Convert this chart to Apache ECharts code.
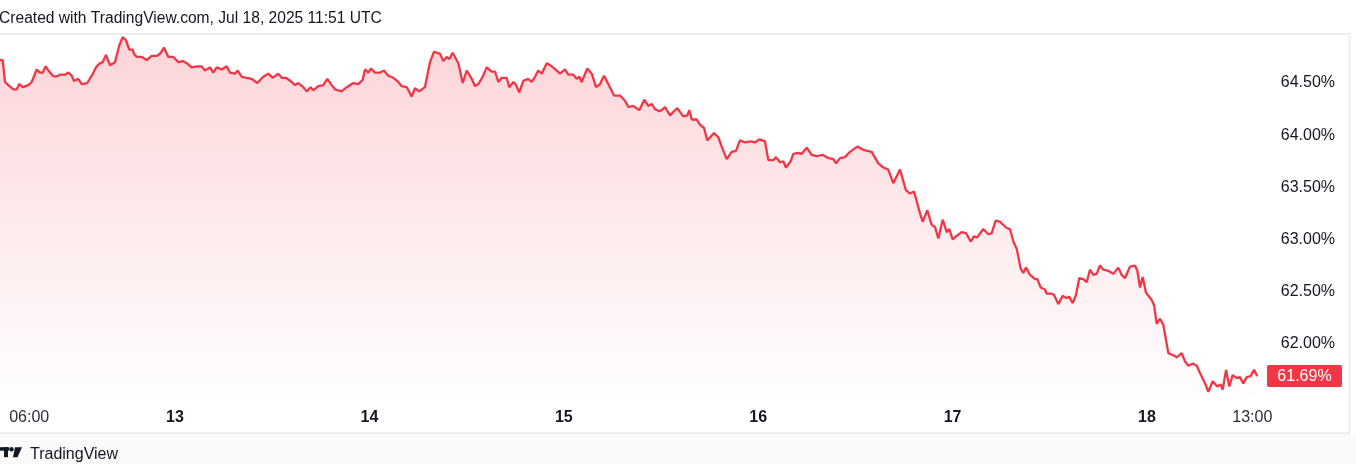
<!DOCTYPE html>
<html><head><meta charset="utf-8">
<script src="https://cdn.jsdelivr.net/npm/echarts@6/dist/echarts.min.js"></script>
<style>html,body{margin:0;padding:0;background:#fff;overflow:hidden;} #c{width:1356px;height:464px;}</style>
</head><body><div id="c"></div>
<script>
// hours since Jul 12 00:00 (UTC display of the chart)
const hours = [
2.40,2.73,3.01,3.42,4.04,4.46,4.78,5.20,5.89,6.31,6.93,7.33,7.67,8.04,8.36,8.90,9.31,9.80,10.42,10.83,11.25,11.53,12.06,12.48,13.17,13.72,14.33,14.74,15.07,15.48,15.98,16.59,17.12,17.54,17.95,18.36,18.78,18.94,19.27,19.89,20.51,21.12,21.74,22.15,22.64,23.17,23.79,24.41,24.95,25.45,26.06,26.68,27.30,27.70,28.32,28.73,29.15,29.77,30.38,30.79,31.41,31.74,32.24,32.85,33.47,34.16,34.90,35.52,36.06,36.75,37.17,37.70,38.41,38.82,39.22,39.84,40.26,40.75,41.08,41.69,42.31,42.80,
43.35,43.75,44.58,45.20,46.01,46.63,47.17,47.46,47.87,48.20,48.69,49.31,49.80,50.33,50.95,51.57,51.99,52.61,53.22,53.63,54.16,54.86,55.48,55.98,56.72,57.12,57.54,57.87,58.28,58.98,59.52,60.01,60.63,61.04,61.45,61.99,62.48,63.10,63.51,63.92,64.33,64.95,65.27,65.77,66.10,66.51,67.00,67.62,68.04,68.45,68.85,69.27,69.89,70.51,71.12,71.53,72.15,72.56,73.17,73.60,73.92,74.21,74.90,75.45,75.98,
76.47,76.97,77.49,78.20,78.94,79.56,79.97,80.58,81.32,81.94,82.43,82.85,83.26,83.79,84.09,84.49,85.11,86.01,86.75,87.25,87.50,87.79,88.41,88.82,89.31,89.72,90.55,91.08,91.50,92.11,92.73,93.26,93.75,94.37,95.08,95.61,96.14,96.84,97.25,97.87,98.20,98.69,99.10,99.43,100.01,100.34,100.95,101.37,101.99,102.61,103.22,103.97,104.66,105.28,105.61,106.10,106.72,107.33,
108.24,108.98,110.01,110.83,111.45,112.06,112.68,113.51,114.25,114.74,115.24,115.98,116.31,116.88,117.42,117.83,118.24,118.78,119.28,119.60,120.01,120.42,121.12,121.66,122.23,122.64,123.05,123.79,124.41,124.83,125.32,125.85,126.68,127.09,127.50,127.92,128.41,128.73,129.07,129.56,130.18,130.46,130.88,131.41,131.62,132.24,132.52,133.05,133.60,134.00,134.41,134.83,135.24,135.64,136.14,136.56,136.96,137.37,137.79,
138.20,138.61,139.23,139.84,140.05,140.46,140.88,141.29,141.90,142.52,142.81,143.14,143.47,143.88,144.58,144.87,145.20,145.61,146.02,146.64,147.25,147.67,148.29,148.70,149.11,149.65,150.14,150.55,151.17,151.57,152.12,152.68,153.10,153.35,153.76,154.16,154.58,155.08,155.48,155.89,156.31,156.80,157.21,157.62
];
// percentage values
const values = [
64.72,64.72,64.51,64.48,64.44,64.44,64.49,64.46,64.48,64.51,64.63,64.60,64.60,64.66,64.62,64.57,64.56,64.58,64.58,64.60,64.57,64.52,64.54,64.49,64.50,64.57,64.66,64.69,64.70,64.77,64.67,64.70,64.86,64.94,64.91,64.82,64.82,64.78,64.75,64.75,64.72,64.76,64.76,64.78,64.84,64.75,64.75,64.70,64.71,64.69,64.65,64.66,64.66,64.62,64.65,64.60,64.65,64.63,64.66,64.60,64.59,64.62,64.56,64.55,64.54,64.50,64.56,64.59,64.55,64.59,64.55,64.55,64.51,64.48,64.50,64.46,64.42,64.46,64.43,64.47,64.48,64.54,
64.48,64.44,64.42,64.46,64.50,64.49,64.53,64.63,64.60,64.64,64.60,64.60,64.62,64.57,64.55,64.51,64.47,64.46,64.37,64.45,64.42,64.46,64.70,64.80,64.78,64.71,64.75,64.73,64.79,64.69,64.50,64.62,64.54,64.47,64.49,64.56,64.65,64.61,64.61,64.51,64.55,64.55,64.46,64.51,64.48,64.41,64.52,64.54,64.51,64.56,64.62,64.59,64.69,64.66,64.62,64.59,64.63,64.58,64.58,64.54,64.56,64.51,64.64,64.59,64.46,
64.49,64.57,64.49,64.38,64.38,64.33,64.27,64.28,64.24,64.34,64.28,64.30,64.25,64.23,64.24,64.27,64.19,64.26,64.18,64.19,64.24,64.15,64.15,64.10,64.07,63.95,64.02,63.98,63.89,63.77,63.84,63.85,63.95,63.93,63.94,63.93,63.96,63.94,63.76,63.76,63.79,63.74,63.75,63.69,63.75,63.82,63.83,63.82,63.88,63.81,63.80,63.81,63.78,63.77,63.73,63.78,63.79,63.84,
63.89,63.86,63.84,63.73,63.69,63.67,63.54,63.67,63.47,63.44,63.46,63.25,63.17,63.28,63.14,63.12,63.01,63.19,63.07,63.10,63.00,63.03,63.07,63.06,62.98,63.03,63.02,63.10,63.05,63.06,63.18,63.17,63.11,63.10,62.98,62.91,62.72,62.68,62.73,62.66,62.62,62.62,62.54,62.52,62.48,62.48,62.47,62.38,62.46,62.44,62.45,62.39,62.47,62.63,62.62,62.59,62.71,62.66,62.67,
62.75,62.71,62.70,62.67,62.68,62.73,62.66,62.63,62.74,62.75,62.70,62.54,62.64,62.49,62.42,62.37,62.19,62.24,62.18,61.91,61.89,61.87,61.91,61.83,61.79,61.81,61.79,61.72,61.62,61.54,61.64,61.59,61.61,61.56,61.75,61.59,61.70,61.67,61.68,61.62,61.68,61.69,61.75,61.69
];
const xTickHours = [6, 24, 48, 72, 96, 120, 144, 157];
const xTickLabels = ['06:00', '13', '14', '15', '16', '17', '18', '13:00'];
const yTickValues = [62, 62.5, 63, 63.5, 64, 64.5];
const titleText = 'Created with TradingView.com, Jul 18, 2025 11:51 UTC';
const brandText = 'TradingView';

const RED = '#F23645';
const FONT = '"Liberation Sans", Arial, Helvetica, sans-serif';
const n = Math.min(hours.length, values.length);
const data = [];
for (let i = 0; i < n; i++) data.push([hours[i], values[i]]);
const lastVal = values[n - 1];

const chart = echarts.init(document.getElementById('c'), null, {renderer: 'canvas'});
const option = {
  animation: false,
  backgroundColor: '#ffffff',
  grid: {left: 0, right: 94, top: 34, bottom: 66, containLabel: false},
  xAxis: {
    type: 'value', min: 2.395, max: 158.2,
    axisLine: {show: false}, axisTick: {show: false}, splitLine: {show: false},
    axisLabel: {
      customValues: xTickHours,
      margin: 12,
      fontFamily: FONT, fontSize: 16, color: '#131722',
      formatter: function (v) {
        const i = xTickHours.indexOf(v);
        if (i < 0) return '';
        const s = xTickLabels[i];
        return s.indexOf(':') >= 0 ? '{t|' + s + '}' : '{d|' + s + '}';
      },
      rich: {
        t: {fontFamily: FONT, fontSize: 16, color: '#2a2e39'},
        d: {fontFamily: FONT, fontSize: 16, color: '#131722', fontWeight: 'bold'}
      }
    }
  },
  yAxis: {
    type: 'value', position: 'right', min: 61.48, max: 64.97, scale: true,
    axisLine: {show: false}, axisTick: {show: false}, splitLine: {show: false},
    axisLabel: {
      customValues: yTickValues,
      align: 'right', margin: 73,
      fontFamily: FONT, fontSize: 16, color: '#131722',
      formatter: function (v) { return v.toFixed(2) + '%'; }
    }
  },
  series: [{
    type: 'line', data: data, showSymbol: false, symbol: 'none',
    lineStyle: {color: RED, width: 2.3},
    itemStyle: {color: RED},
    areaStyle: {
      origin: 'start',
      color: new echarts.graphic.LinearGradient(0, 0, 0, 1, [
        {offset: 0, color: 'rgba(242,54,69,0.30)'},
        {offset: 0.5, color: 'rgba(242,54,69,0.15)'},
        {offset: 1, color: 'rgba(242,54,69,0.01)'}
      ])
    }
  }]
};
chart.setOption(option);

const lastPix = chart.convertToPixel({gridIndex: 0}, [hours[n - 1], lastVal]);
chart.setOption({
  graphic: [
    {type: 'rect', z: 0, silent: true, shape: {x: 0, y: 434, width: 1356, height: 30}, style: {fill: '#fafafa'}},
    {type: 'polyline', z: 50, silent: true, shape: {points: [[-5, 34], [1349.5, 34], [1349.5, 433], [-5, 433]]}, style: {stroke: '#eeeeee', lineWidth: 2, fill: null}},
    {type: 'text', z: 50, left: -1, top: 11, style: {text: titleText, font: '15.6px ' + FONT, fill: '#131722'}},
    {type: 'group', z: 50, left: 0, top: 447, children: [
      {type: 'rect', shape: {x: 0, y: 1, width: 9, height: 3.5}, style: {fill: '#131722'}},
      {type: 'rect', shape: {x: 4, y: 1, width: 4, height: 10}, style: {fill: '#131722'}},
      {type: 'circle', shape: {cx: 11.5, cy: 3, r: 2.2}, style: {fill: '#131722'}},
      {type: 'polygon', shape: {points: [[15, 1], [22, 1], [17.5, 11], [13, 11]]}, style: {fill: '#131722'}}
    ]},
    {type: 'text', z: 50, left: 30, top: 447, style: {text: brandText, font: '16px ' + FONT, fill: '#131722'}},
    {type: 'rect', z: 60, shape: {x: 1267, y: lastPix[1] - 11, width: 75, height: 22, r: 2}, style: {fill: RED}},
    {type: 'text', z: 61, style: {x: 1304.5, y: lastPix[1], text: lastVal.toFixed(2) + '%', font: '16px ' + FONT, fill: '#ffffff', align: 'center', verticalAlign: 'middle'}}
  ]
});
</script>
</body></html>
